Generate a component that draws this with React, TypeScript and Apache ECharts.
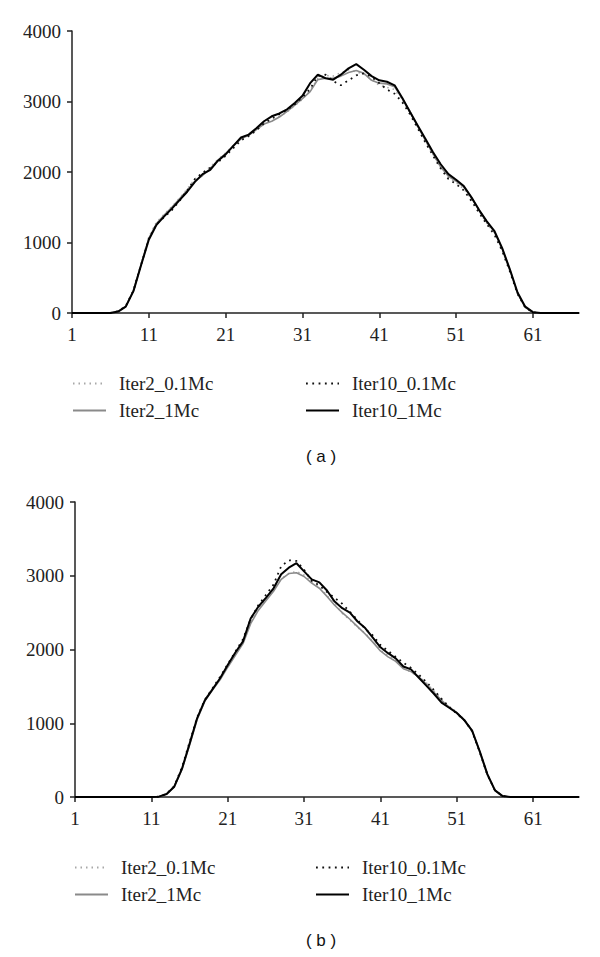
import React, { useEffect, useRef } from "react";
import * as echarts from "echarts";

const categories: string[] = Array.from({ length: 67 }, (_, i) => String(i + 1));
const yTicks = [0, 1000, 2000, 3000, 4000];
const seriesNames = ["Iter2_0.1Mc", "Iter2_1Mc", "Iter10_0.1Mc", "Iter10_1Mc"];

// Chart (a)
const a_iter2_01 = [0,0,0,0,0,0,20,95,320,700,1080,1290,1400,1510,1630,1760,1900,1990,2070,2180,2270,2380,2470,2530,2610,2690,2740,2790,2850,2940,3030,3160,3330,3370,3360,3410,3450,3420,3390,3310,3230,3200,3170,3020,2840,2640,2440,2250,2060,1920,1850,1760,1610,1440,1270,1130,890,600,270,80,10,0,0,0,0,0,0];
const a_iter2_1 = [0,0,0,0,0,0,20,95,320,690,1060,1270,1390,1500,1620,1740,1870,1950,2050,2170,2260,2370,2470,2520,2600,2680,2720,2780,2860,2950,3040,3140,3310,3330,3330,3360,3410,3440,3400,3300,3260,3250,3210,3040,2860,2650,2450,2260,2070,1940,1870,1790,1640,1460,1290,1150,910,610,280,80,10,0,0,0,0,0,0];
const a_iter10_01 = [0,0,0,0,0,0,25,100,320,690,1050,1260,1360,1460,1590,1740,1900,1990,2060,2140,2230,2340,2450,2510,2590,2690,2760,2820,2880,2960,3060,3180,3360,3380,3290,3230,3300,3370,3400,3350,3260,3170,3110,2990,2820,2620,2420,2230,2050,1900,1830,1740,1590,1420,1260,1110,880,590,270,80,10,0,0,0,0,0,0];
const a_iter10_1 = [0,0,0,0,0,0,20,90,310,680,1040,1250,1370,1480,1600,1720,1860,1970,2030,2160,2250,2370,2490,2530,2620,2720,2790,2830,2890,2980,3080,3260,3380,3330,3310,3380,3470,3530,3450,3360,3300,3280,3230,3050,2850,2660,2470,2280,2110,1970,1890,1800,1640,1460,1300,1160,920,620,290,90,12,0,0,0,0,0,0];

// Chart (b)
const b_iter2_01 = [0,0,0,0,0,0,0,0,0,0,0,5,45,150,390,720,1070,1310,1480,1620,1770,1930,2100,2370,2550,2680,2810,2960,3030,3060,3010,2920,2850,2730,2620,2490,2400,2300,2220,2110,1990,1920,1850,1760,1690,1640,1550,1440,1330,1230,1150,1050,910,620,310,90,12,0,0,0,0,0,0,0,0,0,0];
const b_iter2_1 = [0,0,0,0,0,0,0,0,0,0,0,5,40,140,370,700,1050,1300,1450,1590,1760,1920,2080,2350,2530,2660,2790,2950,3030,3040,2990,2900,2830,2720,2600,2500,2410,2310,2210,2100,1980,1900,1840,1740,1700,1630,1530,1420,1310,1220,1140,1040,900,610,300,90,12,0,0,0,0,0,0,0,0,0,0];
const b_iter10_01 = [0,0,0,0,0,0,0,0,0,0,0,5,45,150,400,740,1080,1320,1470,1630,1800,1970,2140,2410,2600,2740,2880,3130,3210,3200,3080,2930,2870,2780,2700,2620,2510,2400,2280,2190,2060,1980,1900,1820,1750,1660,1560,1450,1330,1220,1130,1040,890,610,300,90,12,0,0,0,0,0,0,0,0,0,0];
const b_iter10_1 = [0,0,0,0,0,0,0,0,0,0,0,5,40,140,380,720,1070,1310,1460,1610,1790,1960,2110,2420,2580,2700,2830,3020,3110,3170,3060,2950,2910,2800,2650,2560,2500,2380,2290,2160,2030,1950,1880,1770,1730,1620,1510,1400,1280,1210,1140,1040,900,620,310,90,12,0,0,0,0,0,0,0,0,0,0];

const SERIF = "Liberation Serif";

const styles: Record<string, any> = {
  "Iter2_0.1Mc": { color: "#a8a8a8", width: 1.5, type: [1.5, 4] },
  "Iter2_1Mc": { color: "#8a8a8a", width: 1.6, type: "solid" },
  "Iter10_0.1Mc": { color: "#111111", width: 1.8, type: [1.8, 4.5] },
  "Iter10_1Mc": { color: "#000000", width: 2, type: "solid" },
};

function makeSeries(idx: number, data: number[][]) {
  return seriesNames.map((name, k) => ({
    name,
    type: "line",
    xAxisIndex: idx,
    yAxisIndex: idx,
    data: data[k],
    symbol: "none",
    smooth: false,
    lineStyle: { ...styles[name] },
    itemStyle: { color: styles[name].color },
    z: k + 2,
  }));
}

function makeLegend(name: string, left: number, top: number) {
  return {
    data: [name],
    left,
    top,
    padding: 0,
    itemWidth: 33,
    itemHeight: 14,
    selectedMode: false,
    itemStyle: { opacity: 0, borderWidth: 0 },
    textStyle: {
      fontFamily: SERIF,
      fontSize: 19,
      color: "#222",
      padding: [0, 0, 0, 8],
    },
  };
}

function axisX(gridIndex: number) {
  return {
    type: "category",
    gridIndex,
    data: categories,
    boundaryGap: false,
    axisLine: { show: true, lineStyle: { color: "#222", width: 1.5 } },
    axisTick: { show: true, interval: 9, length: 5, lineStyle: { color: "#222", width: 1.5 } },
    axisLabel: { interval: 9, fontFamily: SERIF, fontSize: 19, color: "#222", margin: 12 },
    splitLine: { show: false },
  };
}

function axisY(gridIndex: number) {
  return {
    type: "value",
    gridIndex,
    min: yTicks[0],
    max: yTicks[yTicks.length - 1],
    interval: 1000,
    axisLine: { show: true, lineStyle: { color: "#222", width: 1.5 } },
    axisTick: { show: true, length: 5, lineStyle: { color: "#222", width: 1.5 } },
    axisLabel: {
      fontFamily: SERIF,
      fontSize: 19,
      color: "#222",
      margin: 11,
      formatter: (v: number) => String(v),
    },
    splitLine: { show: false },
  };
}

export default function App() {
  const ref = useRef<HTMLDivElement>(null);
  useEffect(() => {
    if (!ref.current) return;
    const chart = echarts.init(ref.current, undefined, { renderer: "svg" });
    chart.setOption({
      animation: false,
      backgroundColor: "#ffffff",
      textStyle: { fontFamily: SERIF },
      grid: [
        { left: 72, top: 31, width: 507, height: 282 },
        { left: 75, top: 502, width: 504, height: 295 },
      ],
      xAxis: [axisX(0), axisX(1)],
      yAxis: [axisY(0), axisY(1)],
      legend: [
        makeLegend("Iter2_0.1Mc", 72, 374),
        makeLegend("Iter2_1Mc", 72, 401),
        makeLegend("Iter10_0.1Mc", 305, 374),
        makeLegend("Iter10_1Mc", 305, 401),
        makeLegend("Iter2_0.1Mc", 74, 858),
        makeLegend("Iter2_1Mc", 74, 885),
        makeLegend("Iter10_0.1Mc", 315, 858),
        makeLegend("Iter10_1Mc", 315, 885),
      ],
      graphic: [
        {
          type: "text",
          x: 321,
          y: 456,
          style: {
            text: "( a )",
            fontFamily: "Liberation Sans",
            fontSize: 17,
            fill: "#111",
            textAlign: "center",
            textVerticalAlign: "middle",
          },
        },
        {
          type: "text",
          x: 321,
          y: 940,
          style: {
            text: "( b )",
            fontFamily: "Liberation Sans",
            fontSize: 17,
            fill: "#111",
            textAlign: "center",
            textVerticalAlign: "middle",
          },
        },
      ],
      series: [
        ...makeSeries(0, [a_iter2_01, a_iter2_1, a_iter10_01, a_iter10_1]),
        ...makeSeries(1, [b_iter2_01, b_iter2_1, b_iter10_01, b_iter10_1]),
      ],
    });
    return () => chart.dispose();
  }, []);
  return (
    <div
      ref={ref}
      style={{ position: "absolute", left: 0, top: 0, width: 600, height: 957 }}
    />
  );
}
